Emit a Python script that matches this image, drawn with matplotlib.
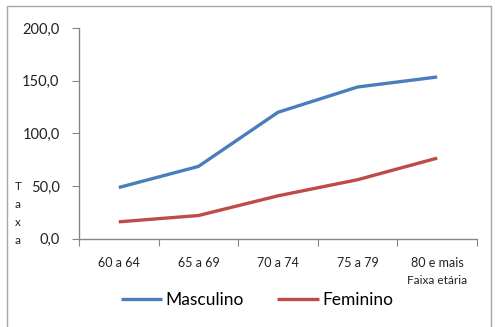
import matplotlib.pyplot as plt
import numpy as np
from matplotlib.patches import Rectangle

plt.rcParams["font.family"] = ["Lato", "DejaVu Sans"]

# taxa por faixa etária
faixas = ["60 a 64", "65 a 69", "70 a 74", "75 a 79", "80 e mais"]
masculino = [48.6, 68.6, 120.0, 144.0, 153.5]
feminino = [16.0, 22.0, 40.7, 56.0, 76.5]

BLUE = "#4a7ebb"
RED = "#be4b48"

fig = plt.figure(figsize=(5.0, 3.27), dpi=100)
W, H = 500, 327
ax = fig.add_axes([79 / W, 1 - 238.7 / H, 398 / W, 210.7 / H])

# moldura do gráfico
fig.patches.append(Rectangle((7 / W, -0.02), 484 / W, 1 - 6 / H + 0.02,
                             transform=fig.transFigure, fill=False,
                             ec="#a6a6a6", lw=1.0))

x = np.arange(len(faixas))
ax.plot(x, masculino, color=BLUE, lw=2.4, solid_capstyle="butt", label="Masculino")
ax.plot(x, feminino, color=RED, lw=2.4, solid_capstyle="butt", label="Feminino")

ax.set_xlim(-0.5, len(faixas) - 0.5)
ax.set_ylim(0, 200)
ax.set_yticks(np.arange(0, 201, 50))
ax.set_yticklabels([f"{v:.1f}".replace(".", ",") for v in np.arange(0, 201, 50)],
                   fontsize=10.5, color="#222222")
ax.set_xticks(np.arange(-0.5, len(faixas), 1.0))
ax.set_xticklabels([])
ax.set_xticks(x, minor=True)
ax.set_xticklabels(faixas, minor=True, fontsize=9, color="#222222")
ax.tick_params(axis="x", which="major", length=5, color="#868686", direction="out")
ax.tick_params(axis="x", which="minor", length=0, pad=13)
ax.tick_params(axis="y", length=5, color="#868686", pad=9)

for s in ["top", "right"]:
    ax.spines[s].set_visible(False)
for s in ["left", "bottom"]:
    ax.spines[s].set_color("#868686")
    ax.spines[s].set_linewidth(1.0)

# rótulo vertical "Taxa" letra a letra
for i, ch in enumerate("Taxa"):
    fig.text(18 / W, 1 - (186 + 18 * i) / H, ch, ha="center", va="center",
             fontsize=8.5, color="#222222")

fig.text(437 / W, 1 - 281 / H, "Faixa etária", ha="center", va="center",
         fontsize=8.5, color="#222222")

fig.legend(loc="center", bbox_to_anchor=(257 / W, 1 - 300 / H), ncol=2,
           frameon=False, fontsize=12.5, handlelength=2.4, handletextpad=0.2,
           columnspacing=1.9)

fig.savefig("out.png", dpi=100)
